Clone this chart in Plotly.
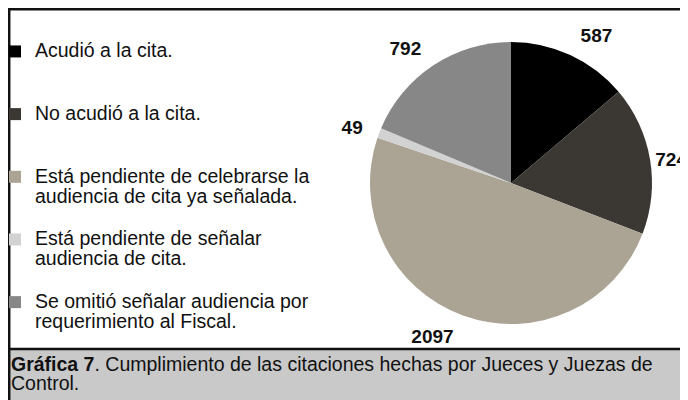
import plotly.graph_objects as go

# datos de la gráfica
categorias = [
    "Acudió a la cita.",
    "No acudió a la cita.",
    "Está pendiente de celebrarse la<br>audiencia de cita ya señalada.",
    "Está pendiente de señalar<br>audiencia de cita.",
    "Se omitió señalar audiencia por<br>requerimiento al Fiscal.",
]
valores = [587, 724, 2097, 49, 792]
colores = ["#000000", "#3b3833", "#aba393", "#d2d2d2", "#878787"]
# cifras pegadas al borde (True) o algo separadas (False)
cifra_pegada = [False, True, False, False, False]

titulo = "<b>Gráfica 7</b>. Cumplimiento de las citaciones hechas por Jueces y Juezas de<br>Control."

# la pagina deja 8px de margen en el body, la figura ocupa el resto de la ventana
W, H = 680, 392
OFF = 8


def sx(X):
    return (X - OFF) / W


def sy(Y):
    return 1 - (Y - OFF) / H


cx, cy, r = 511, 183, 141   # centro y radio del pastel (pixeles de pantalla)
r_txt = 153                 # radio donde van las cifras separadas


def grande(texto, n=3, px=19.5):
    # cada linea con letra mas grande, relleno a n lineas para separar entradas
    partes = texto.split("<br>")
    partes += ["\u00a0"] * (n - len(partes))
    return "<br>".join('<span style="font-size:%spx">%s</span>' % (px, p) for p in partes)


def dominio(rad):
    return dict(x=[sx(cx - rad), sx(cx + rad)], y=[sy(cy + rad), sy(cy - rad)])


etiquetas = [grande(c) for c in categorias]
fuente_cifras = dict(family="Liberation Sans, Arial", size=19, color="#111111", weight="bold")

fig = go.Figure()
fig.add_trace(go.Pie(
    labels=etiquetas,
    values=valores,
    marker=dict(colors=colores, line=dict(width=0)),
    sort=False,
    direction="clockwise",
    rotation=0,
    texttemplate="%{value}",
    textposition=["outside" if p else "none" for p in cifra_pegada],
    textfont=fuente_cifras,
    domain=dominio(r),
    hoverinfo="label+value",
))
# cifras afuera del pastel (pastel transparente algo mayor)
fig.add_trace(go.Pie(
    labels=etiquetas,
    values=valores,
    marker=dict(colors=["rgba(0,0,0,0)"] * len(valores), line=dict(width=0)),
    sort=False,
    direction="clockwise",
    rotation=0,
    texttemplate="%{value}",
    textposition=["none" if p else "outside" for p in cifra_pegada],
    textfont=fuente_cifras,
    domain=dominio(r_txt),
    showlegend=False,
    hoverinfo="skip",
))

# recuadro exterior y franja del titulo
fig.add_shape(type="rect", xref="paper", yref="paper", x0=0, x1=1, y0=0, y1=sy(349),
              fillcolor="#c9c9c9", line=dict(width=0), layer="below")
fig.add_shape(type="line", xref="paper", yref="paper", x0=0, x1=1, y0=sy(349), y1=sy(349),
              line=dict(color="#111111", width=2.5))
fig.add_shape(type="line", xref="paper", yref="paper", x0=0, x1=1, y0=1 - 1.2 / H, y1=1 - 1.2 / H,
              line=dict(color="#111111", width=2.5))
fig.add_shape(type="line", xref="paper", yref="paper", x0=1.2 / W, x1=1.2 / W, y0=0, y1=1,
              line=dict(color="#111111", width=2.5))

fig.add_annotation(
    text=grande(titulo, n=2), xref="paper", yref="paper",
    x=sx(9), y=sy(351), xanchor="left", yanchor="top", align="left",
    showarrow=False, font=dict(family="Liberation Sans, Arial", size=14.6, color="#111111"),
)

fig.update_layout(
    width=W, height=H,
    margin=dict(l=0, r=0, t=0, b=0, autoexpand=False),
    paper_bgcolor="white",
    plot_bgcolor="white",
    font=dict(family="Liberation Sans, Arial", color="#111111"),
    legend=dict(
        x=sx(-5), y=sy(35), xanchor="left", yanchor="top",
        valign="top", font=dict(size=15.3), bgcolor="rgba(0,0,0,0)",
        itemclick=False, itemdoubleclick=False,
    ),
    showlegend=True,
)

fig.write_html("out.html")
